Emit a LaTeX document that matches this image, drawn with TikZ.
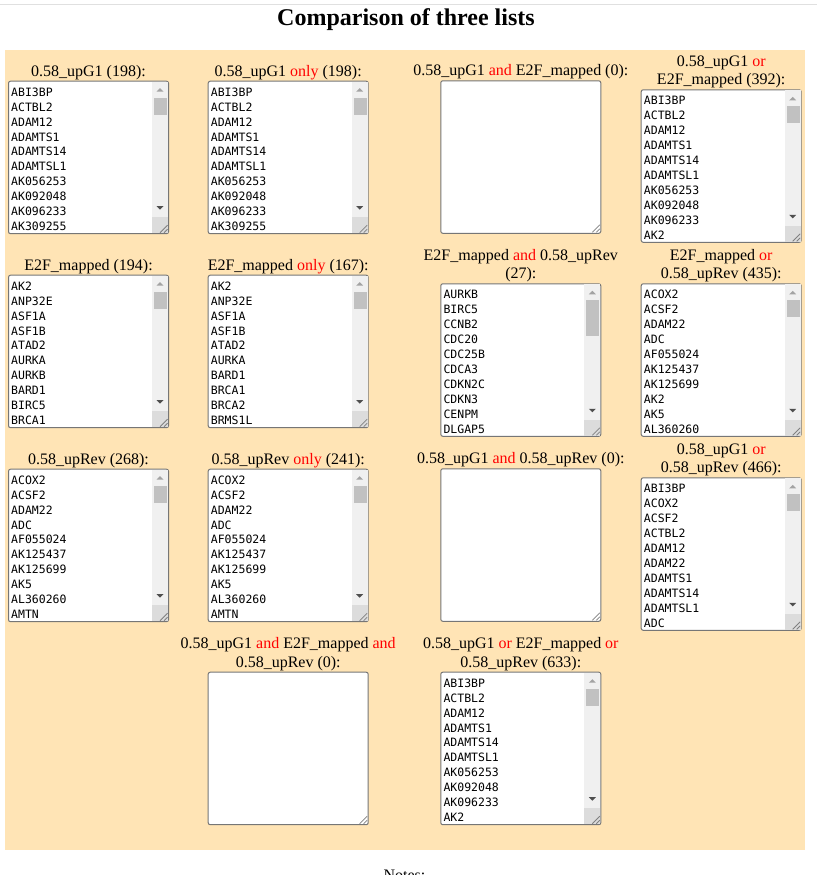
\documentclass[tikz,border=0pt]{standalone}
\usepackage{fontspec}
\setmainfont{Liberation Serif}
\newfontfamily\listfont{DejaVu Sans Mono}
\usetikzlibrary{positioning,calc}

\definecolor{panel}{HTML}{FFE4B5}
\definecolor{frame}{HTML}{767676}
\definecolor{track}{HTML}{F0F0F0}
\definecolor{thumbgray}{HTML}{C1C1C1}
\definecolor{gripgray}{HTML}{DCDCDC}
\definecolor{rulegray}{HTML}{E0E0E0}

\newcommand{\griplines}[1]{
    \draw[gripline] ($(#1.south east)+(-9,-1.5)$) -- ($(#1.south east)+(-1.5,-9)$);
    \draw[gripline] ($(#1.south east)+(-5,-1.5)$) -- ($(#1.south east)+(-1.5,-5)$);
}
\newcommand{\scrollbar}[2]{
    \fill[track] ($(#1.north east)+(-17,1)$) rectangle ($(#1.south east)+(-1,-1)$);
    \fill[thumbgray] ($(#1.north east)+(-15,17)$) rectangle ($(#1.north east)+(-2,17+#2)$);
    \fill[black!36] ($(#1.north east)+(-12.5,11)$) -- ++(7,0) -- ++(-3.5,-3.5) -- cycle;
    \fill[black!69] ($(#1.south east)+(-12.5,-28)$) -- ++(7,0) -- ++(-3.5,3.5) -- cycle;
    \fill[gripgray] ($(#1.south east)+(-17,-17)$) rectangle ($(#1.south east)+(-1,-1)$);
    \griplines{#1}
}
\newcommand{\listbox}[4]{
    \node[box] (#1) at (#2) {};
    \scrollbar{#1}{#3}
    \foreach \g [count=\i] in {#4}
        \node[item] at ($(#1.north west)+(3,0.7+14.9*\i)$) {\g};
}
\newcommand{\emptybox}[2]{
    \node[box] (#1) at (#2) {};
    \griplines{#1}
}
\newcommand{\red}[1]{\textcolor{red}{#1}}

\begin{document}
\begin{tikzpicture}[x=1pt, y=-1pt]
            \tikzstyle{box}=[draw=frame,fill=white,line width=1pt,rounded corners=2pt,minimum width=160pt,minimum height=152.5pt,inner sep=0pt,anchor=north west]
            \tikzstyle{item}=[anchor=base west,inner sep=0pt,font=\listfont\fontsize{11.5}{13}\selectfont]
            \tikzstyle{lbl}=[inner sep=0pt,text depth=0pt,align=center,font=\fontsize{16}{18.4}\selectfont]
            \tikzstyle{gripline}=[draw=black!50,line width=0.8pt]

            \useasboundingbox (0,0) rectangle (817,875);
            \clip (0,0) rectangle (817,875);

            \draw[rulegray,line width=1.5pt] (0,4.5) -- (817,4.5);
            \node[anchor=base,inner sep=0pt,font=\fontsize{24}{28}\selectfont\bfseries] (title) at (406,26) {Comparison of three lists};
            \fill[panel] (5,50) rectangle (805,850);

            % first row
            \listbox{B_1}{8,80.7}{17}{ABI3BP,ACTBL2,ADAM12,ADAMTS1,ADAMTS14,ADAMTSL1,AK056253,AK092048,AK096233,AK309255}
            \listbox{B_2}{207.7,80.7}{17}{ABI3BP,ACTBL2,ADAM12,ADAMTS1,ADAMTS14,ADAMTSL1,AK056253,AK092048,AK096233,AK309255}
            \emptybox{B_3}{440.3,80.3}
            \listbox{B_4}{640.7,89.3}{17}{ABI3BP,ACTBL2,ADAM12,ADAMTS1,ADAMTS14,ADAMTSL1,AK056253,AK092048,AK096233,AK2}
            \node[lbl, above=4.5pt of B_1] (L_1) {0.58\_upG1 (198):};
            \node[lbl, above=4.5pt of B_2] (L_2) {0.58\_upG1 \red{only} (198):};
            \node[lbl, above=4.5pt of B_3] (L_3) {0.58\_upG1 \red{and} E2F\_mapped (0):};
            \node[lbl, above=4.3pt of B_4] (L_4) {0.58\_upG1 \red{or}\\E2F\_mapped (392):};

            % second row
            \listbox{B_5}{8,274.7}{17}{AK2,ANP32E,ASF1A,ASF1B,ATAD2,AURKA,AURKB,BARD1,BIRC5,BRCA1}
            \listbox{B_6}{207.7,274.7}{17}{AK2,ANP32E,ASF1A,ASF1B,ATAD2,AURKA,BARD1,BRCA1,BRCA2,BRMS1L}
            \listbox{B_7}{440.3,283.3}{36}{AURKB,BIRC5,CCNB2,CDC20,CDC25B,CDCA3,CDKN2C,CDKN3,CENPM,DLGAP5}
            \listbox{B_8}{640.7,283.3}{17}{ACOX2,ACSF2,ADAM22,ADC,AF055024,AK125437,AK125699,AK2,AK5,AL360260}
            \node[lbl, above=4.5pt of B_5] (L_5) {E2F\_mapped (194):};
            \node[lbl, above=4.5pt of B_6] (L_6) {E2F\_mapped \red{only} (167):};
            \node[lbl, above=4.3pt of B_7] (L_7) {E2F\_mapped \red{and} 0.58\_upRev\\(27):};
            \node[lbl, above=4.3pt of B_8] (L_8) {E2F\_mapped \red{or}\\0.58\_upRev (435):};

            % third row
            \listbox{B_9}{8,468.7}{17}{ACOX2,ACSF2,ADAM22,ADC,AF055024,AK125437,AK125699,AK5,AL360260,AMTN}
            \listbox{B_10}{207.7,468.7}{17}{ACOX2,ACSF2,ADAM22,ADC,AF055024,AK125437,AK125699,AK5,AL360260,AMTN}
            \emptybox{B_11}{440.3,468.3}
            \listbox{B_12}{640.7,477.3}{17}{ABI3BP,ACOX2,ACSF2,ACTBL2,ADAM12,ADAM22,ADAMTS1,ADAMTS14,ADAMTSL1,ADC}
            \node[lbl, above=4.5pt of B_9] (L_9) {0.58\_upRev (268):};
            \node[lbl, above=4.5pt of B_10] (L_10) {0.58\_upRev \red{only} (241):};
            \node[lbl, above=4.5pt of B_11] (L_11) {0.58\_upG1 \red{and} 0.58\_upRev (0):};
            \node[lbl, above=4.3pt of B_12] (L_12) {0.58\_upG1 \red{or}\\0.58\_upRev (466):};

            % fourth row
            \emptybox{B_13}{207.7,671.7}
            \listbox{B_14}{440.3,671.7}{17}{ABI3BP,ACTBL2,ADAM12,ADAMTS1,ADAMTS14,ADAMTSL1,AK056253,AK092048,AK096233,AK2}
            \node[lbl, above=4.3pt of B_13] (L_13) {0.58\_upG1 \red{and} E2F\_mapped \red{and}\\0.58\_upRev (0):};
            \node[lbl, above=4.3pt of B_14] (L_14) {0.58\_upG1 \red{or} E2F\_mapped \red{or}\\0.58\_upRev (633):};

            \node[anchor=base west,inner sep=0pt,font=\fontsize{16}{18.4}\selectfont] (notes) at (383.3,880.6) {Notes:};
        \end{tikzpicture}
\end{document}
